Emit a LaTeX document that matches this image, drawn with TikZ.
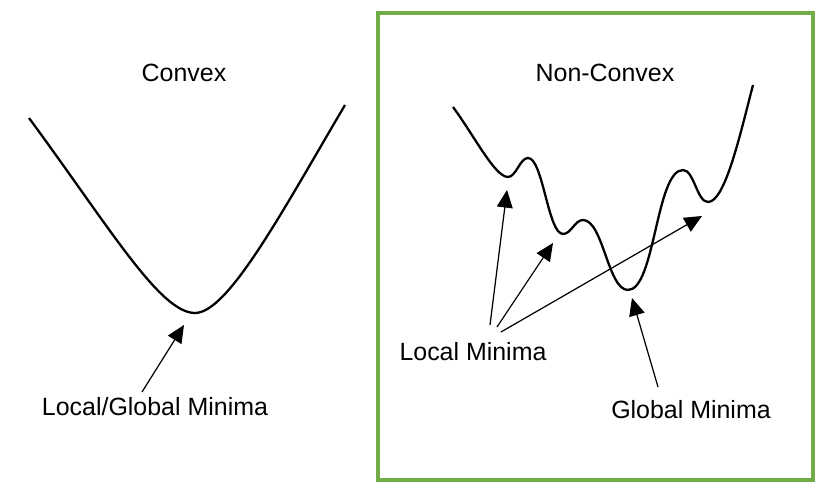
\documentclass[tikz,border=0pt]{standalone}
\usepackage{fontspec}
\setmainfont{Liberation Sans}
\usepackage{tikz}
\usetikzlibrary{arrows.meta, positioning}
\usepackage{xcolor}
\definecolor{boxgreen}{RGB}{112, 173, 71}

\begin{document}
\begin{tikzpicture}[
  x=0.02cm, y=-0.02cm,
  lbl/.style={font=\fontsize{14.2}{17}\selectfont, inner sep=0pt},
  curve/.style={line width=1.3pt, line join=round},
  arr/.style={-{Triangle[length=10pt, width=9pt]}, line width=0.7pt}
]
  \useasboundingbox (0,0) rectangle (829,492);
  \node[draw=boxgreen, line width=1.8pt, minimum width=435*0.02cm, minimum height=467*0.02cm,
        inner sep=0pt] (frame) at (595.5,246.5) {};

  % convex
  \node[lbl] (convex) at (184,73) {Convex};
  \draw[curve] (29,118) .. controls (110,228) and (160,313) .. (195,313)
               .. controls (228,313) and (282,212) .. (345,105);
  \coordinate (gmtipL) at (184,325);
  \node[lbl] (locglob) at (155,407) {Local/Global Minima};
  \coordinate (gmtailL) at (142,392);
  \draw[arr] (gmtailL) -- (gmtipL);

  % non-convex
  \node[lbl] (nonconvex) at (605,73) {Non-Convex};
  \draw[curve] (453,107) .. controls (475,137) and (495,177) .. (508,177)
               .. controls (516,177) and (520,158) .. (528,158)
               .. controls (543,158) and (548,234) .. (563,234)
               .. controls (571,234) and (575,220) .. (583,220)
               .. controls (603,220) and (608,290) .. (628,290)
               .. controls (655,290) and (656,170) .. (683,170)
               .. controls (694,170) and (697,202) .. (708,202)
               .. controls (725,202) and (740,135) .. (753,85);

  \node[lbl] (locmin) at (473,352) {Local Minima};
  \node[lbl] (globmin) at (691,410) {Global Minima};
  \coordinate (lmtipA) at (507,190);
  \coordinate (lmtipB) at (553,243);
  \coordinate (lmtipC) at (702,216);
  \coordinate (lmtailA) at (490,325);
  \coordinate (lmtailB) at (497,327);
  \coordinate (lmtailC) at (501,332);
  \coordinate (gmtip) at (632,298);
  \coordinate (gmtail) at (658,387);

  \draw[arr] (lmtailA) -- (lmtipA);
  \draw[arr] (lmtailB) -- (lmtipB);
  \draw[arr] (lmtailC) -- (lmtipC);
  \draw[arr] (gmtail) -- (gmtip);
\end{tikzpicture}
\end{document}
